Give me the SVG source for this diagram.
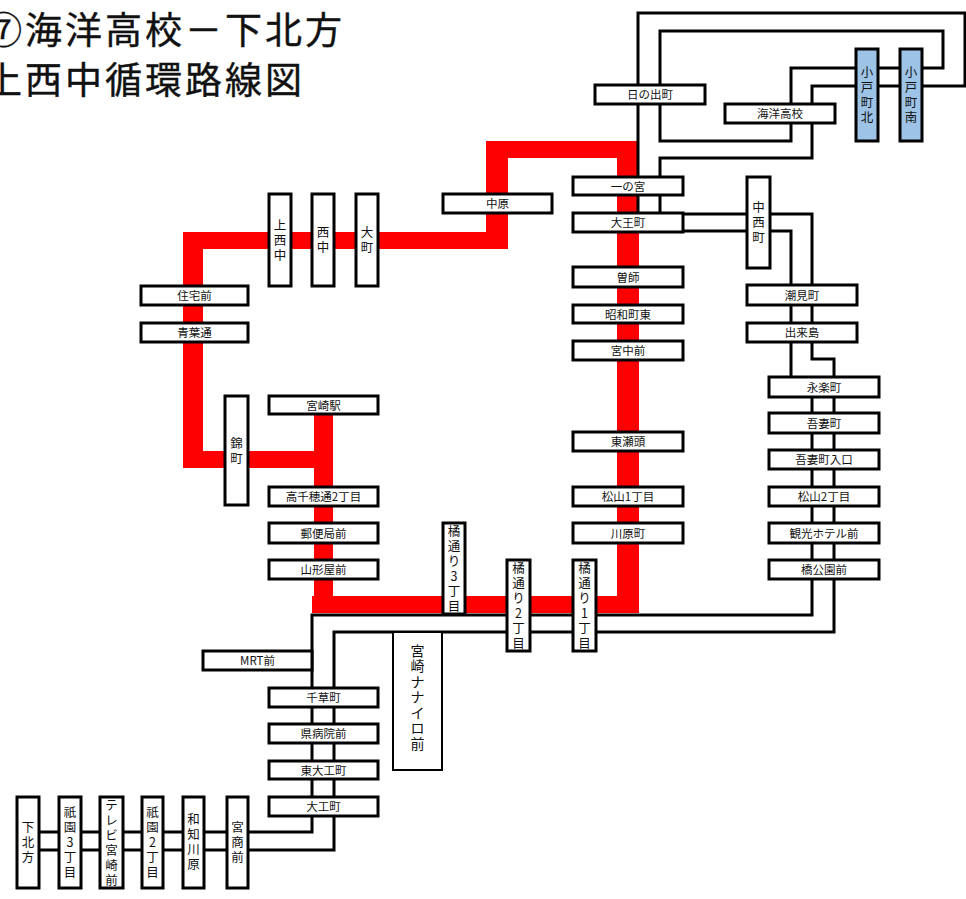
<svg xmlns="http://www.w3.org/2000/svg" width="966" height="899" viewBox="0 0 966 899">
<style>
.bg{fill:#fff}
.red{fill:#ff0000}
.ln{fill:none;stroke:#000;stroke-width:3;stroke-linejoin:miter}
.st{fill:#fff;stroke:#000;stroke-width:3}
.bl{fill:#9dc3e6;stroke:#000;stroke-width:3}
.th{fill:#fff;stroke:#000;stroke-width:2}
text{font-family:"Noto Sans CJK JP","Noto Sans CJK SC",sans-serif;fill:#111}
.t{font-size:11.5px;text-anchor:middle}
.v{font-size:12.5px;text-anchor:middle}
.vb{font-size:14px;text-anchor:middle}
.title{font-size:37px;letter-spacing:3px;font-weight:normal;stroke:#111;stroke-width:0.4px}
</style>
<rect class="bg" x="0" y="0" width="966" height="899"/>
<g id="title">
<text class="title" x="-15" y="44">⑦海洋高校－下北方</text>
<text class="title" x="-15" y="94">上西中循環路線図</text>
</g>
<g id="redline">
<rect class="red" x="486" y="141" width="153" height="17"/>
<rect class="red" x="486" y="141" width="22" height="108"/>
<rect class="red" x="183" y="232" width="325" height="17"/>
<rect class="red" x="183" y="232" width="20" height="236"/>
<rect class="red" x="183" y="451" width="150" height="17"/>
<rect class="red" x="314" y="405" width="19" height="208"/>
<rect class="red" x="312" y="596" width="327" height="17"/>
<rect class="red" x="617" y="141" width="22" height="472"/>
</g>
<g id="connectors">
<path class="ln" d="M638,231 V13 H965 V86 H812 V158 H660 V231"/>
<path class="ln" d="M660,31 V141 H791 V68 H943 V31 Z"/>
<path class="ln" d="M683,214 H812 V359 H834 V632 H334 V850 H39"/>
<path class="ln" d="M683,231 H791 V387"/>
<path class="ln" d="M812,387 V615 H312 V832 H39"/>
</g>
<g id="n-hinodecho"><rect class="st" x="595" y="85" width="110" height="19"/><text class="t" x="650" y="99">日の出町</text></g>
<g id="n-kaiyokoko"><rect class="st" x="725" y="104" width="110" height="19"/><text class="t" x="780" y="118">海洋高校</text></g>
<g id="n-kotomachikita"><rect class="bl" x="856" y="49" width="22" height="92"/><text class="v" x="867" y="77"><tspan x="867">小</tspan><tspan x="867" dy="15">戸</tspan><tspan x="867" dy="15">町</tspan><tspan x="867" dy="15">北</tspan></text></g>
<g id="n-kotomachiminami"><rect class="bl" x="900" y="49" width="22" height="92"/><text class="v" x="911" y="77"><tspan x="911">小</tspan><tspan x="911" dy="15">戸</tspan><tspan x="911" dy="15">町</tspan><tspan x="911" dy="15">南</tspan></text></g>
<g id="n-ichinomiya"><rect class="st" x="573" y="177" width="110" height="18"/><text class="t" x="628" y="190.5">一の宮</text></g>
<g id="n-daiomachi"><rect class="st" x="573" y="213" width="110" height="19"/><text class="t" x="628" y="227">大王町</text></g>
<g id="n-nakahara"><rect class="st" x="443" y="194" width="109" height="19"/><text class="t" x="497.5" y="208">中原</text></g>
<g id="n-nakanishimachi"><rect class="st" x="747" y="177" width="23" height="91"/><text class="v" x="758.5" y="212"><tspan x="758.5">中</tspan><tspan x="758.5" dy="15">西</tspan><tspan x="758.5" dy="15">町</tspan></text></g>
<g id="n-soshi"><rect class="st" x="573" y="267" width="110" height="20"/><text class="t" x="628" y="281.5">曽師</text></g>
<g id="n-showamachihigashi"><rect class="st" x="573" y="305" width="110" height="18"/><text class="t" x="628" y="318.5">昭和町東</text></g>
<g id="n-miyanakamae"><rect class="st" x="573" y="341" width="110" height="19"/><text class="t" x="628" y="355">宮中前</text></g>
<g id="n-higashisezu"><rect class="st" x="573" y="432" width="110" height="19"/><text class="t" x="628" y="446">東瀬頭</text></g>
<g id="n-matsuyama1"><rect class="st" x="573" y="487" width="110" height="19"/><text class="t" x="628" y="501">松山1丁目</text></g>
<g id="n-kawaharamachi"><rect class="st" x="573" y="523" width="110" height="20"/><text class="t" x="628" y="537.5">川原町</text></g>
<g id="n-shiomicho"><rect class="st" x="747" y="285" width="110" height="20"/><text class="t" x="802" y="299.5">潮見町</text></g>
<g id="n-dekijima"><rect class="st" x="747" y="323" width="110" height="19"/><text class="t" x="802" y="337">出来島</text></g>
<g id="n-eirakucho"><rect class="st" x="769" y="377" width="110" height="20"/><text class="t" x="824" y="391.5">永楽町</text></g>
<g id="n-azumacho"><rect class="st" x="769" y="413" width="110" height="20"/><text class="t" x="824" y="427.5">吾妻町</text></g>
<g id="n-azumachoiriguchi"><rect class="st" x="769" y="450" width="110" height="19"/><text class="t" x="824" y="464">吾妻町入口</text></g>
<g id="n-matsuyama2"><rect class="st" x="769" y="487" width="110" height="19"/><text class="t" x="824" y="501">松山2丁目</text></g>
<g id="n-kankohotel"><rect class="st" x="769" y="523" width="110" height="20"/><text class="t" x="824" y="537.5">観光ホテル前</text></g>
<g id="n-tachibanakoen"><rect class="st" x="769" y="560" width="110" height="19"/><text class="t" x="824" y="574">橋公園前</text></g>
<g id="n-kaminishinaka"><rect class="st" x="269" y="194" width="22" height="92"/><text class="v" x="280" y="230"><tspan x="280">上</tspan><tspan x="280" dy="15">西</tspan><tspan x="280" dy="15">中</tspan></text></g>
<g id="n-nishinaka"><rect class="st" x="312" y="194" width="22" height="92"/><text class="v" x="323" y="237"><tspan x="323">西</tspan><tspan x="323" dy="15">中</tspan></text></g>
<g id="n-omachi"><rect class="st" x="356" y="194" width="22" height="92"/><text class="v" x="367" y="237"><tspan x="367">大</tspan><tspan x="367" dy="15">町</tspan></text></g>
<g id="n-jutakumae"><rect class="st" x="141" y="286" width="107" height="19"/><text class="t" x="194.5" y="300">住宅前</text></g>
<g id="n-aobadori"><rect class="st" x="141" y="323" width="107" height="19"/><text class="t" x="194.5" y="337">青葉通</text></g>
<g id="n-nishikimachi"><rect class="st" x="225" y="396" width="23" height="109"/><text class="v" x="236.5" y="447.5"><tspan x="236.5">錦</tspan><tspan x="236.5" dy="15">町</tspan></text></g>
<g id="n-miyazakieki"><rect class="st" x="269" y="396" width="109" height="18"/><text class="t" x="323.5" y="409.5">宮崎駅</text></g>
<g id="n-takachiho2"><rect class="st" x="269" y="487" width="109" height="19"/><text class="t" x="323.5" y="501">高千穂通2丁目</text></g>
<g id="n-yubinkyokumae"><rect class="st" x="269" y="523" width="109" height="20"/><text class="t" x="323.5" y="537.5">郵便局前</text></g>
<g id="n-yamakatayamae"><rect class="st" x="269" y="560" width="109" height="19"/><text class="t" x="323.5" y="574">山形屋前</text></g>
<g id="n-tachibana3"><rect class="st" x="443" y="523" width="22" height="91"/><text class="v" x="454" y="535.5"><tspan x="454">橘</tspan><tspan x="454" dy="15">通</tspan><tspan x="454" dy="15">り</tspan><tspan x="454" dy="15">3</tspan><tspan x="454" dy="15">丁</tspan><tspan x="454" dy="15">目</tspan></text></g>
<g id="n-tachibana2"><rect class="st" x="507" y="560" width="23" height="91"/><text class="v" x="518.5" y="572.5"><tspan x="518.5">橘</tspan><tspan x="518.5" dy="15">通</tspan><tspan x="518.5" dy="15">り</tspan><tspan x="518.5" dy="15">2</tspan><tspan x="518.5" dy="15">丁</tspan><tspan x="518.5" dy="15">目</tspan></text></g>
<g id="n-tachibana1"><rect class="st" x="573" y="560" width="23" height="91"/><text class="v" x="584.5" y="572.5"><tspan x="584.5">橘</tspan><tspan x="584.5" dy="15">通</tspan><tspan x="584.5" dy="15">り</tspan><tspan x="584.5" dy="15">1</tspan><tspan x="584.5" dy="15">丁</tspan><tspan x="584.5" dy="15">目</tspan></text></g>
<g id="n-nanairo"><rect class="th" x="393" y="632" width="49" height="138"/><text class="vb" x="417.5" y="655.5"><tspan x="417.5">宮</tspan><tspan x="417.5" dy="15.5">崎</tspan><tspan x="417.5" dy="15.5">ナ</tspan><tspan x="417.5" dy="15.5">ナ</tspan><tspan x="417.5" dy="15.5">イ</tspan><tspan x="417.5" dy="15.5">ロ</tspan><tspan x="417.5" dy="15.5">前</tspan></text></g>
<g id="n-mrtmae"><rect class="st" x="203" y="651" width="109" height="19"/><text class="t" x="257.5" y="665">MRT前</text></g>
<g id="n-chigusacho"><rect class="st" x="269" y="688" width="109" height="19"/><text class="t" x="323.5" y="702">千草町</text></g>
<g id="n-kenbyoinmae"><rect class="st" x="269" y="724" width="109" height="19"/><text class="t" x="323.5" y="738">県病院前</text></g>
<g id="n-higashidaikumachi"><rect class="st" x="269" y="761" width="109" height="18"/><text class="t" x="323.5" y="774.5">東大工町</text></g>
<g id="n-daikumachi"><rect class="st" x="269" y="797" width="109" height="19"/><text class="t" x="323.5" y="811">大工町</text></g>
<g id="n-shimokitakata"><rect class="st" x="17" y="797" width="22" height="91"/><text class="v" x="28" y="832"><tspan x="28">下</tspan><tspan x="28" dy="15">北</tspan><tspan x="28" dy="15">方</tspan></text></g>
<g id="n-gion3"><rect class="st" x="59" y="797" width="22" height="91"/><text class="v" x="70" y="817"><tspan x="70">祇</tspan><tspan x="70" dy="15">園</tspan><tspan x="70" dy="15">3</tspan><tspan x="70" dy="15">丁</tspan><tspan x="70" dy="15">目</tspan></text></g>
<g id="n-terebimiyazaki"><rect class="st" x="100" y="797" width="23" height="91"/><text class="v" x="111.5" y="809.5"><tspan x="111.5">テ</tspan><tspan x="111.5" dy="15">レ</tspan><tspan x="111.5" dy="15">ビ</tspan><tspan x="111.5" dy="15">宮</tspan><tspan x="111.5" dy="15">崎</tspan><tspan x="111.5" dy="15">前</tspan></text></g>
<g id="n-gion2"><rect class="st" x="142" y="797" width="21" height="91"/><text class="v" x="152.5" y="817"><tspan x="152.5">祇</tspan><tspan x="152.5" dy="15">園</tspan><tspan x="152.5" dy="15">2</tspan><tspan x="152.5" dy="15">丁</tspan><tspan x="152.5" dy="15">目</tspan></text></g>
<g id="n-wachigawara"><rect class="st" x="183" y="797" width="21" height="91"/><text class="v" x="193.5" y="824"><tspan x="193.5">和</tspan><tspan x="193.5" dy="15">知</tspan><tspan x="193.5" dy="15">川</tspan><tspan x="193.5" dy="15">原</tspan></text></g>
<g id="n-miyashomae"><rect class="st" x="227" y="797" width="21" height="91"/><text class="v" x="237.5" y="832"><tspan x="237.5">宮</tspan><tspan x="237.5" dy="15">商</tspan><tspan x="237.5" dy="15">前</tspan></text></g>
</svg>
